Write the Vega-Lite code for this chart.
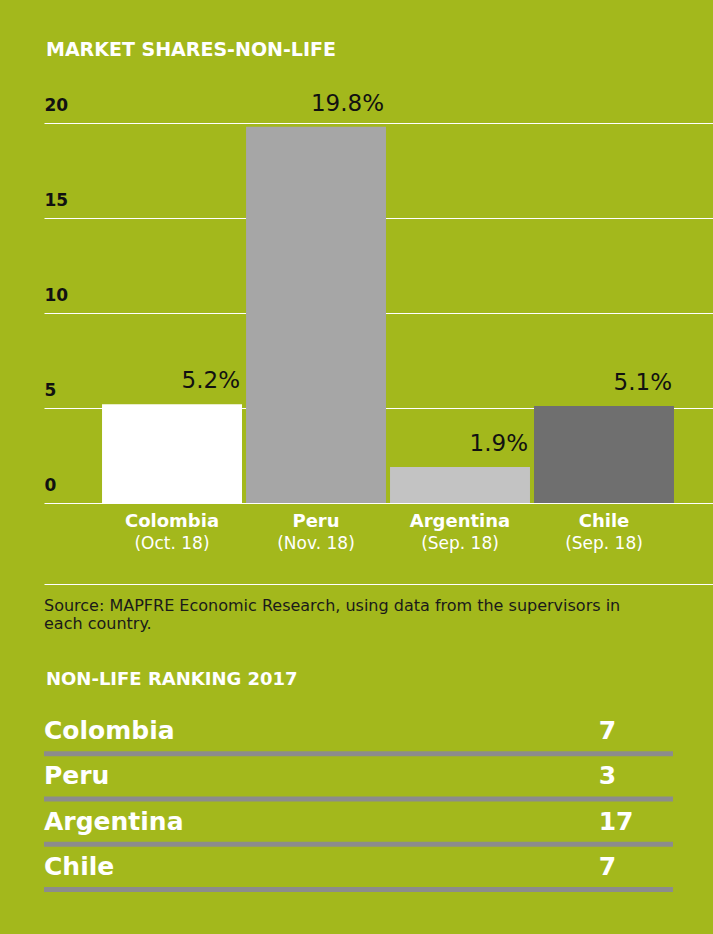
{
  "$schema": "https://vega.github.io/schema/vega-lite/v6.json",
  "background": "#a3b81c",
  "padding": {"left": 44, "top": 40, "right": 0, "bottom": 50},
  "config": {
    "view": {"stroke": null},
    "font": "DejaVu Sans",
    "title": {"color": "white", "anchor": "start", "fontSize": 18, "fontWeight": "bold", "dx": 2}
  },
  "datasets": {
    "shares": [
      {"country": "Colombia", "period": "(Oct. 18)", "share": 0.052},
      {"country": "Peru", "period": "(Nov. 18)", "share": 0.198},
      {"country": "Argentina", "period": "(Sep. 18)", "share": 0.019},
      {"country": "Chile", "period": "(Sep. 18)", "share": 0.051}
    ],
    "ranking": [
      {"country": "Colombia", "rank": 7},
      {"country": "Peru", "rank": 3},
      {"country": "Argentina", "rank": 17},
      {"country": "Chile", "rank": 7}
    ]
  },
  "spacing": 39,
  "vconcat": [
    {
      "spacing": 0,
      "vconcat": [
        {
          "title": {"text": "MARKET SHARES-NON-LIFE", "offset": 33, "fontSize": 19},
          "width": 669,
          "height": 380,
          "data": {"name": "shares"},
          "encoding": {
            "y": {
              "field": "share",
              "type": "quantitative",
              "scale": {"domain": [0, 0.2], "nice": false},
              "axis": {
                "values": [0, 0.05, 0.1, 0.15, 0.2],
                "labelExpr": "format(datum.value*100, 'd')",
                "grid": true,
                "gridColor": "white",
                "gridOpacity": 1,
                "gridWidth": 1,
                "domain": false,
                "ticks": false,
                "tickSize": 0,
                "labelAlign": "left",
                "labelBaseline": "alphabetic",
                "labelPadding": 0,
                "labelOffset": -13,
                "labelFontSize": 17,
                "labelFontWeight": "bold",
                "labelColor": "#111111",
                "title": null
              }
            }
          },
          "layer": [
            {
              "mark": {"type": "bar"},
              "encoding": {
                "x": {
                  "field": "country",
                  "type": "nominal",
                  "sort": ["Colombia", "Peru", "Argentina", "Chile"],
                  "scale": {"type": "band", "paddingInner": 0.028, "paddingOuter": 0.337, "align": 0.598},
                  "axis": null
                },
                "color": {
                  "field": "country",
                  "type": "nominal",
                  "scale": {
                    "domain": ["Colombia", "Peru", "Argentina", "Chile"],
                    "range": ["#ffffff", "#a6a6a6", "#c3c3c3", "#6f6f6f"]
                  },
                  "legend": null
                }
              }
            },
            {
              "mark": {"type": "text", "align": "right", "baseline": "alphabetic", "dx": -2, "dy": -16, "fontSize": 23, "color": "#111111"},
              "encoding": {
                "x": {
                  "field": "country",
                  "type": "nominal",
                  "sort": ["Colombia", "Peru", "Argentina", "Chile"],
                  "bandPosition": 1,
                  "axis": null
                },
                "text": {"field": "share", "format": ".1%"}
              }
            }
          ]
        },
        {
          "width": 669,
          "height": 81,
          "data": {"name": "shares"},
          "title": {
            "text": ["Source: MAPFRE Economic Research, using data from the supervisors in", "each country."],
            "orient": "bottom",
            "anchor": "start",
            "fontSize": 16,
            "fontWeight": "normal",
            "color": "#1a1a1a",
            "lineHeight": 18,
            "offset": 14,
            "dx": 0
          },
          "encoding": {
            "x": {
              "field": "country",
              "type": "nominal",
              "sort": ["Colombia", "Peru", "Argentina", "Chile"],
              "scale": {"type": "band", "paddingInner": 0.028, "paddingOuter": 0.337, "align": 0.598},
              "axis": {"orient": "bottom", "domain": true, "domainColor": "white", "domainWidth": 1, "ticks": false, "labels": false, "grid": false, "title": null}
            }
          },
          "layer": [
            {
              "mark": {"type": "text", "baseline": "alphabetic", "dy": -17, "fontSize": 18, "fontWeight": "bold", "color": "white"},
              "encoding": {"text": {"field": "country"}}
            },
            {
              "mark": {"type": "text", "baseline": "alphabetic", "dy": 5, "fontSize": 17, "color": "white"},
              "encoding": {"text": {"field": "period"}}
            }
          ]
        }
      ]
    },
    {
      "width": 629,
      "height": 181,
      "data": {"name": "ranking"},
      "title": {"text": "NON-LIFE RANKING 2017", "offset": 24},
      "encoding": {
        "y": {
          "field": "country",
          "type": "nominal",
          "sort": ["Colombia", "Peru", "Argentina", "Chile"],
          "scale": {"paddingInner": 0, "paddingOuter": 0},
          "axis": null
        }
      },
      "layer": [
        {
          "mark": {"type": "rule", "color": "#8c8c8c", "strokeWidth": 5, "clip": true},
          "encoding": {
            "y": {"field": "country", "type": "nominal", "sort": ["Colombia", "Peru", "Argentina", "Chile"], "bandPosition": 0.9, "axis": null}
          }
        },
        {
          "mark": {"type": "text", "align": "left", "baseline": "alphabetic", "fontSize": 25, "fontWeight": "bold", "color": "white"},
          "encoding": {
            "y": {"field": "country", "type": "nominal", "sort": ["Colombia", "Peru", "Argentina", "Chile"], "bandPosition": 0.58, "axis": null},
            "x": {"datum": "Country", "type": "nominal", "scale": {"type": "point", "domain": ["Country", "Rank"], "padding": 0.067, "align": 0}, "axis": null},
            "text": {"field": "country"}
          }
        },
        {
          "mark": {"type": "text", "align": "left", "baseline": "alphabetic", "fontSize": 25, "fontWeight": "bold", "color": "white"},
          "encoding": {
            "y": {"field": "country", "type": "nominal", "sort": ["Colombia", "Peru", "Argentina", "Chile"], "bandPosition": 0.58, "axis": null},
            "x": {"datum": "Rank", "type": "nominal", "axis": null},
            "text": {"field": "rank"}
          }
        }
      ]
    }
  ]
}
